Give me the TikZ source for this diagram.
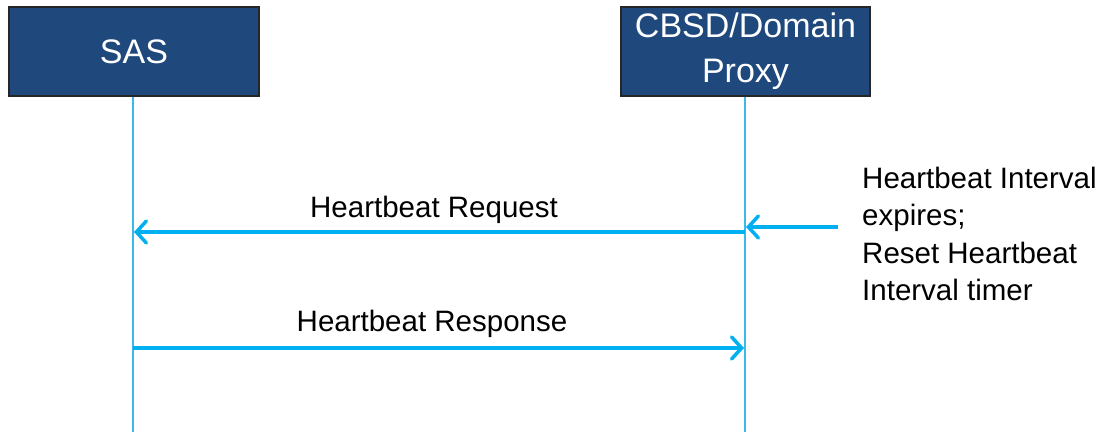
\documentclass[tikz,border=0pt]{standalone}
\usepackage{fontspec}
\setmainfont{Liberation Sans}
\usetikzlibrary{arrows.meta}
\definecolor{boxblue}{RGB}{31,73,125}
\definecolor{msgblue}{RGB}{0,176,240}
\definecolor{lifeblue}{RGB}{60,185,236}
\tikzset{
  actor/.style={draw=black!85, line width=1.2pt, fill=boxblue, text=white,
    minimum width=250pt, minimum height=89pt, inner sep=0pt, align=center,
    font=\fontsize{34}{45}\selectfont},
  lifeline/.style={draw=lifeblue, line width=1.4pt},
  msg/.style={draw=msgblue, line width=3.5pt,
    -{Straight Barb[length=10pt,width=22pt,line width=3.5pt,line cap=round]}},
  lbl/.style={font=\fontsize{29.5}{37.5}\selectfont, inner sep=0pt},
}
\begin{document}
\begin{tikzpicture}[x=1pt,y=-1pt]
\useasboundingbox (0,0) rectangle (1105,432);
\node[actor] (sas) at (134,51.5) {SAS};
\node[actor, minimum width=249pt] (cbsd) at (745.5,51.5) {CBSD/Domain\\Proxy};
\coordinate (sasbot) at (133,432);
\coordinate (cbsdbot) at (745,432);
\draw[lifeline] (sas.south -| sasbot) -- (sasbot);
\draw[lifeline] (cbsd.south -| cbsdbot) -- (cbsdbot);
% timer arrow
\coordinate (tstart) at (838,227);
\coordinate (tend) at (746,227);
\draw[msg] (tstart) -- (tend);
% request
\coordinate (rqs) at (745,232);
\coordinate (rqe) at (134,232);
\draw[msg] (rqs) -- (rqe);
\node[lbl] (rql) at (434,210) {Heartbeat Request};
% response
\coordinate (rss) at (133,348);
\coordinate (rse) at (744,348);
\draw[msg] (rss) -- (rse);
\node[lbl] (rsl) at (432,324) {Heartbeat Response};
% note
\node[lbl, anchor=west, align=left] (note) at (862,234)
  {Heartbeat Interval\\expires;\\Reset Heartbeat\\Interval timer};
\end{tikzpicture}
\end{document}
